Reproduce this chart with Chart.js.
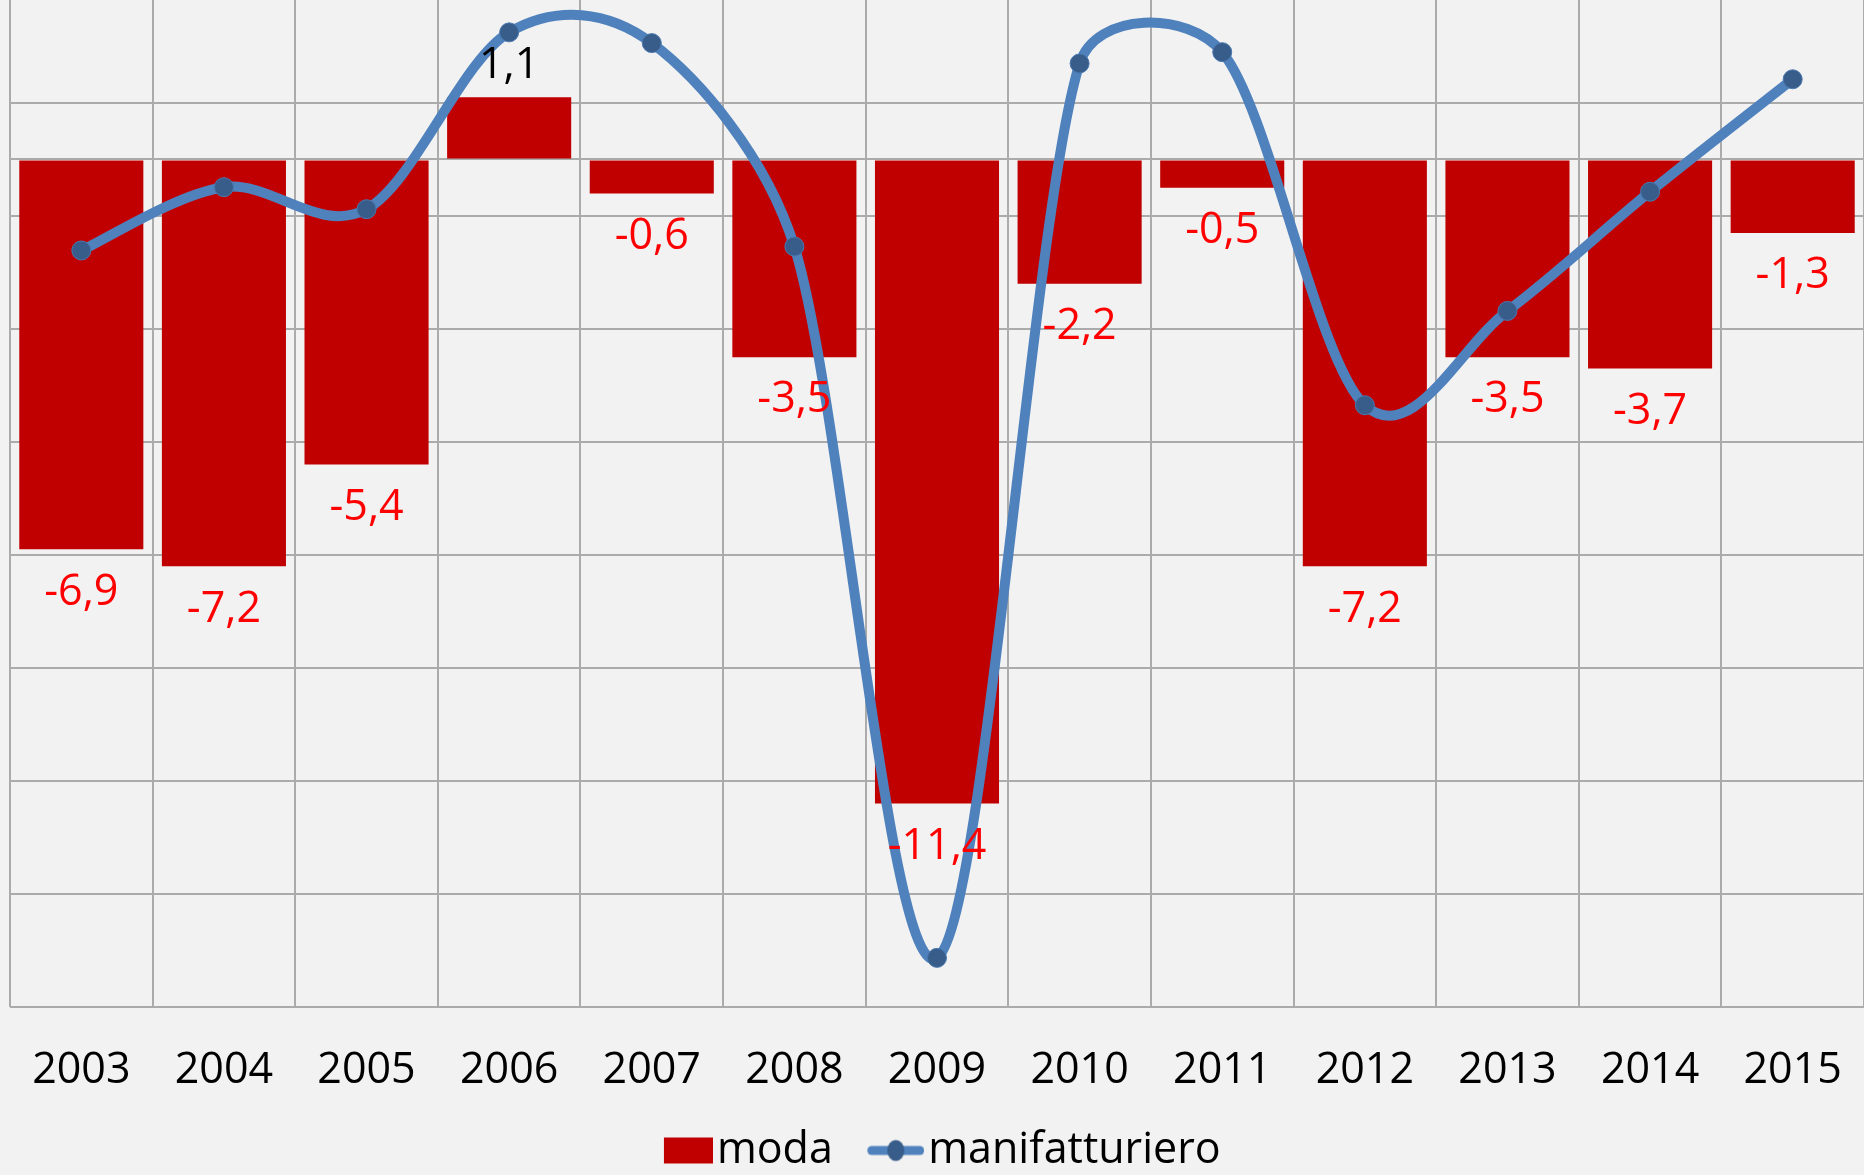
<!DOCTYPE html>
<html>
<head>
<meta charset="utf-8">
<script src="https://cdn.jsdelivr.net/npm/chart.js@4.4.1/dist/chart.umd.min.js"></script>
<style>
  html, body { margin: 0; padding: 0; background: #F2F2F2; overflow: hidden; }
  #wrap { width: 1864px; height: 1175px; }
</style>
</head>
<body>
<div id="wrap"><canvas id="chart" width="1864" height="1175"></canvas></div>
<script>
// data
const years = ['2003', '2004', '2005', '2006', '2007', '2008', '2009', '2010', '2011', '2012', '2013', '2014', '2015'];
const moda = [-6.9, -7.2, -5.4, 1.1, -0.6, -3.5, -11.4, -2.2, -0.5, -7.2, -3.5, -3.7, -1.3];
const manifatturiero = [-1.61, -0.49, -0.88, 2.25, 2.06, -1.54, -14.13, 1.70, 1.90, -4.35, -2.68, -0.57, 1.42];
const gridTicks = [-15, -13, -11, -9, -7, -5, -3, -1, 0, 1];

const FONT = '"Open Sans"';
const FONT_SIZE = 43;
Chart.defaults.font.family = FONT;

// legend icons (red box, blue line with dot)
function legendIcon(kind) {
    const c = document.createElement('canvas');
    c.width = 99; c.height = 30;
    const g = c.getContext('2d');
    if (kind === 'bar') {
        g.fillStyle = '#C00000';
        g.fillRect(99 - 49, 2, 49, 26);
    } else {
        const x0 = 99 - 57;
        g.strokeStyle = '#4F81BD';
        g.lineWidth = 9;
        g.lineCap = 'round';
        g.beginPath(); g.moveTo(x0 + 4.5, 15); g.lineTo(99 - 4.5, 15); g.stroke();
        g.fillStyle = '#385D8A';
        g.beginPath(); g.ellipse(x0 + 28.5, 15, 8.5, 10.5, 0, 0, Math.PI * 2); g.fill();
    }
    return c;
}
const icons = [legendIcon('bar'), legendIcon('line')];

// Excel-like smoothing: Catmull-Rom tangents, leg capped relative to the neighbouring segment
const excelSmooth = {
    id: 'excelSmooth',
    beforeDatasetDraw(chart, args) {
        const meta = args.meta;
        if (meta.type !== 'line') return;
        const pts = meta.data;
        const n = pts.length;
        const dist = (a, b) => Math.hypot(b.x - a.x, b.y - a.y);
        for (let i = 0; i < n; i++) {
            const p = pts[i];
            const prev = pts[Math.max(i - 1, 0)];
            const next = pts[Math.min(i + 1, n - 1)];
            const d02 = dist(prev, next);
            if (d02 === 0) { p.cp1x = p.cp2x = p.x; p.cp1y = p.cp2y = p.y; continue; }
            const ux = (next.x - prev.x) / d02, uy = (next.y - prev.y) / d02;
            const leg1 = Math.min(d02 / 6, 0.38 * dist(prev, p));
            const leg2 = Math.min(d02 / 6, 0.38 * dist(p, next));
            p.cp1x = p.x - ux * leg1; p.cp1y = p.y - uy * leg1;
            p.cp2x = p.x + ux * leg2; p.cp2y = p.y + uy * leg2;
        }
        meta.dataset._pointsUpdated = true;
        meta.dataset._path = undefined;
    }
};

// value labels for the bars
const barLabels = {
    id: 'barLabels',
    afterDatasetsDraw(chart) {
        const meta = chart.getDatasetMeta(0);
        const ctx = chart.ctx;
        ctx.save();
        ctx.font = FONT_SIZE + 'px ' + FONT;
        ctx.textAlign = 'center';
        ctx.textBaseline = 'middle';
        meta.data.forEach((bar, i) => {
            const v = moda[i];
            const txt = v.toFixed(1).replace('.', ',');
            if (v < 0) {
                ctx.fillStyle = '#FF0000';
                ctx.fillText(txt, bar.x, bar.y + 43);
            } else {
                ctx.fillStyle = '#000000';
                ctx.fillText(txt, bar.x, bar.y - 32);
            }
        });
        ctx.restore();
    }
};

// nudge the legend a little to the left
const legendShift = {
    id: 'legendShift',
    afterLayout(chart) {
        if (chart.legend) {
            chart.legend.left -= 12;
            chart.legend.right -= 12;
        }
    }
};

const ctx = document.getElementById('chart').getContext('2d');
const chart = new Chart(ctx, {
    type: 'bar',
    data: {
        labels: years,
        datasets: [
            {
                type: 'bar',
                label: 'moda',
                data: moda,
                backgroundColor: '#C00000',
                barPercentage: 0.87,
                categoryPercentage: 1,
                order: 2
            },
            {
                type: 'line',
                label: 'manifatturiero',
                data: manifatturiero,
                borderColor: '#4F81BD',
                borderWidth: 10,
                tension: 0.4,
                pointRadius: 9.5,
                pointBackgroundColor: '#385D8A',
                pointBorderColor: '#4A78AE',
                pointBorderWidth: 1,
                order: 1
            }
        ]
    },
    options: {
        responsive: false,
        animation: false,
        layout: { autoPadding: false, padding: { left: 10, right: -2, top: 0, bottom: -7 } },
        plugins: {
            tooltip: { enabled: false },
            legend: {
                position: 'bottom',
                labels: {
                    usePointStyle: true,
                    pointStyleWidth: 64,
                    padding: 10,
                    color: '#000000',
                    font: { family: FONT, size: FONT_SIZE },
                    generateLabels(chart) {
                        return chart.data.datasets.map((ds, i) => ({
                            text: ds.label,
                            pointStyle: icons[i],
                            datasetIndex: i,
                            hidden: false,
                            lineWidth: 0,
                            fontColor: '#000000'
                        }));
                    }
                }
            }
        },
        scales: {
            x: {
                grid: {
                    offset: true,
                    color: '#ABABAB',
                    lineWidth: 2,
                    drawTicks: true,
                    tickLength: 38,
                    tickColor: 'rgba(0,0,0,0)'
                },
                border: { display: false },
                ticks: {
                    color: '#000000',
                    font: { family: FONT, size: FONT_SIZE },
                    padding: 0,
                    autoSkip: false,
                    maxRotation: 0
                },
                afterFit: (scale) => { scale.height = 112; }
            },
            y: {
                min: -15,
                max: 2.823,
                afterBuildTicks: (scale) => { scale.ticks = gridTicks.map(v => ({ value: v })); },
                ticks: { display: false },
                grid: { color: '#ABABAB', lineWidth: 2, drawTicks: false },
                border: { display: false }
            }
        }
    },
    plugins: [excelSmooth, barLabels, legendShift]
});
</script>
</body>
</html>
